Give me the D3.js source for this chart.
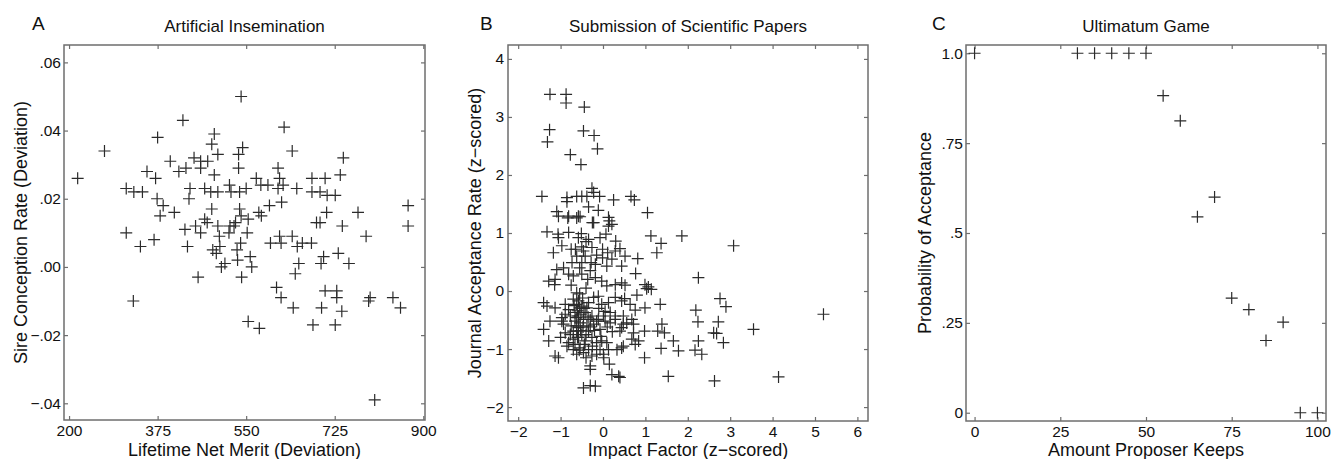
<!DOCTYPE html>
<html>
<head>
<meta charset="utf-8">
<script src="https://cdn.jsdelivr.net/npm/d3@7/dist/d3.min.js"></script>
<style>
    body { margin: 0; background: #fff; }
    text { font-family: "Liberation Sans", Arial, Helvetica, sans-serif; fill: #111; }
</style>
</head>
<body>
<svg id="chart" width="1333" height="459"></svg>
<script>
/* Three scatter panels: insemination, paper submission, ultimatum game */

// Panel A: lifetime net merit vs sire conception rate
var inseminationPoints = [
    [217,.026],[270,.034],[375,.038],[425,.043],[540,.050],[625,.041],[487,.039],[482,.036],
    [494,.033],[543,.035],[535,.033],[641,.034],[742,.032],[400,.031],[447,.032],[460,.031],
    [474,.031],[354,.028],[371,.026],[417,.028],[431,.029],[460,.029],[487,.027],[535,.029],
    [613,.029],[570,.026],[736,.027],[680,.026],[706,.026],[616,.026],[313,.023],[328,.022],
    [345,.022],[439,.023],[437,.020],[468,.023],[480,.022],[494,.022],[517,.024],[520,.022],
    [537,.022],[550,.023],[579,.024],[593,.024],[623,.024],[613,.023],[650,.023],[680,.022],
    [696,.022],[710,.021],[726,.021],[620,.019],[374,.020],[386,.018],[408,.016],[380,.015],
    [482,.017],[537,.017],[540,.015],[554,.014],[575,.016],[580,.015],[596,.018],[709,.016],
    [771,.016],[870,.018],[696,.013],[468,.014],
    [429,.011],[450,.012],[313,.010],[341,.006],[368,.008],[327,-.010],[460,.010],[434,.006],
    [473,.013],[494,.012],[497,.009],[484,.005],[491,.004],[498,.006],[501,.000],[508,.001],
    [455,-.003],[518,.012],[526,.012],[516,.010],[529,.013],[552,.010],[532,.005],[539,.007],
    [533,.002],[558,.003],[561,.000],[541,-.003],[554,-.016],[576,-.018],[598,.007],[616,.009],
    [619,.007],[641,.009],[651,.006],[661,.007],[679,.007],[654,.001],[647,-.002],[689,.013],
    [740,.012],[703,.003],[698,.001],[732,.004],[753,.001],[610,-.006],[619,-.009],[643,-.012],
    [706,-.007],[729,-.007],[729,-.009],[699,-.012],[739,-.013],[682,-.017],[726,-.017],[787,.009],
    [792,-.010],[795,-.009],[840,-.009],[855,-.012],[870,.012],[804,-.039]
];
var inseminationXTicks = [200, 375, 550, 725, 900];
var inseminationYTicks = [.06, .04, .02, 0, -.02, -.04];
var inseminationYLabels = [".06", ".04", ".02", ".00", "\u2212.02", "\u2212.04"];

// Panel B: impact factor vs journal acceptance rate (z-scored)
var paperPoints = [
    [-1.25,3.39],[-0.87,3.39],[-0.87,3.24],[-0.44,3.17],[-1.26,2.78],[-1.31,2.57],[-0.46,2.76],
    [-0.21,2.68],[-0.13,2.45],[-0.77,2.35],[-0.52,2.18],[-1.44,1.63],[-0.85,1.54],[-0.85,1.61],
    [-0.62,1.63],[-0.50,1.63],[-0.38,1.63],[-0.26,1.77],[-0.22,1.70],[-0.08,1.63],[0.25,1.57],
    [0.66,1.63],[0.74,1.57],[-1.09,1.37],[-0.81,1.29],[-0.58,1.29],[-0.54,1.28],[-0.34,1.45],
    [-0.11,1.39],[0.13,1.27],[0.21,1.15],[-0.22,1.18],[1.05,1.35],
    [-1.05,1.29],[-0.83,1.26],[-0.62,1.26],[-0.25,1.18],[0.15,1.21],[0.13,1.12],
    [-1.32,1.02],[-1.06,0.98],[-1.05,0.92],[-0.81,1.01],[-0.58,0.92],[-0.51,0.99],[-0.34,0.89],
    [-0.07,0.92],[0.07,0.98],[0.30,0.86],[1.13,0.95],[1.86,0.95],[1.37,0.82],[1.27,0.66],
    [3.08,0.78],[-1.17,0.66],[-0.97,0.78],[-0.75,0.72],[-0.50,0.76],[-0.46,0.69],[-0.26,0.75],
    [-0.01,0.72],[0.11,0.66],[0.29,0.69],[0.40,0.73],[0.52,0.60],[0.82,0.56],[-1.09,0.37],
    [-0.93,0.40],[-0.73,0.49],[-0.62,0.60],[-0.50,0.49],[-0.42,0.60],[-0.28,0.49],[-0.18,0.46],
    [-0.01,0.57],[0.09,0.43],[0.21,0.55],[0.44,0.43],[0.77,0.30],[-1.28,0.17],[-1.13,0.20],
    [-1.14,0.11],[-0.81,0.29],[-0.70,0.26],[-0.50,0.29],[-0.36,0.20],[-0.18,0.23],[-0.03,0.17],
    [0.09,0.09],[0.29,0.11],[0.44,0.14],[0.52,0.10],[0.99,0.11],[1.07,0.07],[1.03,0.04],
    [1.14,0.03],[2.25,0.23],[-1.40,-0.20],[-1.32,-0.26],[-1.13,-0.29],[-0.89,-0.23],[-0.70,-0.14],
    [-0.62,-0.03],[-0.58,-0.17],[-0.50,-0.26],[-0.34,-0.20],[-0.22,-0.11],[-0.11,-0.09],[-0.03,-0.23],
    [0.13,-0.20],[0.29,-0.11],[0.44,-0.17],[0.51,-0.13],[0.64,-0.23],[0.80,-0.07],[0.76,-0.33],
    [0.99,-0.29],[1.35,-0.23],[2.19,-0.33],[2.76,-0.13],[2.90,-0.27],[-1.25,-0.52],[-0.97,-0.46],
    [-0.77,-0.43],[-0.66,-0.37],[-0.58,-0.43],[-0.42,-0.37],[-0.26,-0.43],[-0.11,-0.49],[0.01,-0.43],
    [0.17,-0.37],[0.29,-0.43],[0.48,-0.43],[0.56,-0.55],[0.68,-0.49],[0.72,-0.57],[2.24,-0.53],
    [2.72,-0.53],[-1.40,-0.66],[-1.28,-0.86],[-1.13,-1.12],[-1.05,-1.15],[-0.97,-0.52],[-0.89,-0.72],
    [-0.77,-0.75],[-0.70,-0.69],[-0.66,-0.52],[-0.62,-0.60],[-0.54,-0.55],[-0.46,-0.49],[-0.38,-0.60],
    [-0.30,-0.49],[-0.22,-0.57],[-0.15,-0.52],[-0.07,-0.66],[0.05,-0.52],[0.17,-0.55],[0.29,-0.49],
    [0.40,-0.69],[0.48,-0.57],[0.44,-0.63],[0.98,-0.69],[0.72,-0.72],[1.29,-0.69],[1.39,-0.57],
    [1.45,-0.72],[1.66,-0.86],[1.78,-1.03],[2.61,-0.72],[2.68,-0.73],[2.84,-0.89],[2.25,-0.86],
    [2.17,-1.02],[2.33,-1.09],[0.84,-0.86],[0.68,-0.83],[0.76,-0.92],[1.37,-0.99],[0.98,-1.15],
    [0.44,-0.98],[0.33,-1.01],[0.48,-0.95],[0.40,-1.49],[1.54,-1.47],[2.63,-1.55],[3.55,-0.66],
    [4.14,-1.48],[5.20,-0.40],[-0.81,-0.89],[-0.70,-1.01],[-0.62,-1.09],[-0.54,-0.98],[-0.46,-1.06],
    [-0.34,-1.01],[-0.26,-1.12],[-0.15,-1.09],[-0.07,-1.01],[0.01,-1.09],[0.13,-1.01],[-0.70,-0.83],
    [-0.58,-0.80],[-0.42,-0.86],[-0.26,-0.80],[-0.15,-0.89],[-0.03,-0.86],[0.09,-0.89],[-0.30,-1.29],
    [-0.30,-1.35],[0.15,-1.26],[0.21,-1.44],[0.37,-1.47],[-0.46,-1.67],[-0.30,-1.63],[-0.18,-1.64],
    [-0.93,-0.57],[-0.89,-0.40],[-0.81,-0.32],[-0.62,-0.23],[-0.60,-0.34],[-0.63,-0.46],[-0.62,-0.69],
    [-0.60,-0.80],[-0.66,-0.92],[-0.58,-0.63],[-0.55,-0.29],[-0.38,-0.29],[-0.40,-0.75],[-0.50,-0.75],
    [-0.34,-0.69],
    [-0.55,-0.05],[-0.48,-0.12],[-0.45,-0.30],[-0.52,-0.40],[-0.47,-0.62],[-0.53,-0.68],[-0.44,-0.92],
    [-0.56,-1.02],[-0.35,-0.45],[-0.30,-0.62],[-0.20,-0.68],[-0.10,-0.30],[0.05,-0.35],[0.10,-0.62],
    [0.22,-0.70],[-0.05,-0.78],[-0.68,-0.25],[-0.75,-0.60],[-0.85,-0.95],[-1.00,-0.80],[-0.40,0.05],
    [-0.30,0.35],[-0.55,0.40],[-0.65,0.72],[-0.40,0.85],[-0.15,0.62],[-0.75,0.10],[-0.25,-0.95],
    [0.02,-1.15],[-0.40,-1.15]
];
var paperXTicks = [-2, -1, 0, 1, 2, 3, 4, 5, 6];
var paperYTicks = [4, 3, 2, 1, 0, -1, -2];

// Panel C: amount proposer keeps vs probability of acceptance
var ultimatumKeeps = [0, 30, 35, 40, 45, 50, 55, 60, 65, 70, 75, 80, 85, 90, 95, 100];
var ultimatumProb = [1, 1, 1, 1, 1, 1, 0.882, 0.812, 0.545, 0.600, 0.319, 0.287, 0.201, 0.252, 0, 0];
var ultimatumXTicks = [0, 25, 50, 75, 100];
var ultimatumYTicks = [1, .75, .5, .25, 0];
var ultimatumYLabels = ["1.0", ".75", ".5", ".25", "0"];

var frameColor = "#6e6e6e";
var markColor = "#2b2b2b";

var svg = d3.select("#chart");

function drawPanel(p) {
    var x = d3.scaleLinear().domain(p.xDomain).range([p.left, p.right]);
    var y = d3.scaleLinear().domain(p.yDomain).range([p.bottom, p.top]);
    var g = svg.append("g");

    // ticks on all four sides, pointing inward
    var xFmt = p.xFormat || function (d) { return (d + "").replace("-", "\u2212"); };
    var yFmt = p.yFormat || function (d) { return (d + "").replace("-", "\u2212"); };

    var bottom = g.append("g").attr("transform", "translate(0," + p.bottom + ")")
        .call(d3.axisBottom(x).tickValues(p.xTicks).tickSizeInner(-4).tickSizeOuter(0)
            .tickPadding(5).tickFormat(xFmt));
    var top = g.append("g").attr("transform", "translate(0," + p.top + ")")
        .call(d3.axisTop(x).tickValues(p.xTicks).tickSizeInner(-4).tickSizeOuter(0).tickFormat(""));
    var left = g.append("g").attr("transform", "translate(" + p.left + ",0)")
        .call(d3.axisLeft(y).tickValues(p.yTicks).tickSizeInner(-4).tickSizeOuter(0)
            .tickPadding(p.yPad).tickFormat(yFmt));
    var right = g.append("g").attr("transform", "translate(" + p.right + ",0)")
        .call(d3.axisRight(y).tickValues(p.yTicks).tickSizeInner(-4).tickSizeOuter(0).tickFormat(""));

    [bottom, top, left, right].forEach(function (a) {
        a.select(".domain").remove();
        a.selectAll("line").attr("stroke", frameColor).attr("stroke-width", 1.2);
        a.selectAll("text").attr("font-size", 15.5).attr("fill", "#111")
            .attr("font-family", "'Liberation Sans', Arial, sans-serif");
    });

    g.append("rect")
        .attr("x", p.left).attr("y", p.top)
        .attr("width", p.right - p.left).attr("height", p.bottom - p.top)
        .attr("fill", "none").attr("stroke", frameColor).attr("stroke-width", 1.5);

    // plus markers
    g.selectAll("path.mark")
        .data(p.points)
        .enter()
        .append("path")
        .attr("class", "mark")
        .attr("transform", function (d) { return "translate(" + x(d[0]) + "," + y(d[1]) + ")"; })
        .attr("d", "M-6,0H6M0,-6V6")
        .attr("fill", "none")
        .attr("stroke", markColor)
        .attr("stroke-width", 1.2);

    var cx = (p.left + p.right) / 2;
    var cy = (p.top + p.bottom) / 2;

    g.append("text").attr("x", p.letterX).attr("y", 30)
        .attr("font-size", 19).text(p.letter);
    g.append("text").attr("x", cx).attr("y", 32)
        .attr("text-anchor", "middle").attr("font-size", 17).text(p.title);
    g.append("text").attr("x", cx).attr("y", p.xLabelY)
        .attr("text-anchor", "middle").attr("font-size", 18).text(p.xLabel);
    g.append("text")
        .attr("transform", "translate(" + p.yLabelX + "," + cy + ") rotate(-90)")
        .attr("text-anchor", "middle").attr("font-size", 18).text(p.yLabel);
}

drawPanel({
    letter: "A", letterX: 32,
    title: "Artificial Insemination",
    xLabel: "Lifetime Net Merit (Deviation)",
    yLabel: "Sire Conception Rate (Deviation)",
    left: 64, right: 425, top: 45, bottom: 420,
    xDomain: [190, 903.4], yDomain: [-.0449, .0651],
    xTicks: inseminationXTicks, yTicks: inseminationYTicks,
    yFormat: function (d) { return inseminationYLabels[inseminationYTicks.indexOf(d)]; },
    yPad: 3, xLabelY: 456, yLabelX: 27,
    points: inseminationPoints
});

drawPanel({
    letter: "B", letterX: 480,
    title: "Submission of Scientific Papers",
    xLabel: "Impact Factor (z\u2212scored)",
    yLabel: "Journal Acceptance Rate (z\u2212scored)",
    left: 508, right: 868, top: 45, bottom: 421,
    xDomain: [-2.24, 6.25], yDomain: [-2.24, 4.24],
    xTicks: paperXTicks, yTicks: paperYTicks,
    yPad: 4, xLabelY: 456, yLabelX: 481,
    points: paperPoints
});

drawPanel({
    letter: "C", letterX: 932,
    title: "Ultimatum Game",
    xLabel: "Amount Proposer Keeps",
    yLabel: "Probability of Acceptance",
    left: 966, right: 1326, top: 45, bottom: 421,
    xDomain: [-2.5, 102.5], yDomain: [-0.023, 1.023],
    xTicks: ultimatumXTicks, yTicks: ultimatumYTicks,
    yFormat: function (d) { return ultimatumYLabels[ultimatumYTicks.indexOf(d)]; },
    yPad: 3, xLabelY: 456, yLabelX: 931,
    points: ultimatumKeeps.map(function (k, i) { return [k, ultimatumProb[i]]; })
});
</script>
</body>
</html>
